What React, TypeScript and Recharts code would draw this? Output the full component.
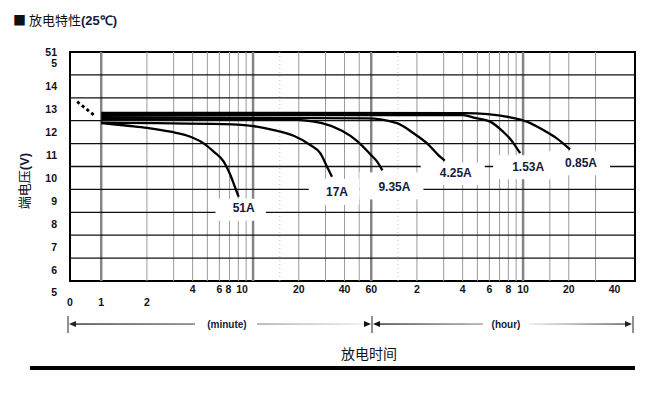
import { LineChart, Line, XAxis, YAxis, ReferenceLine, ReferenceArea, LabelList } from 'recharts';

// discharge time in minutes (log scale), terminal voltage in V
const minutes51 = [1, 1.5, 2, 2.86, 3.87, 4.73, 5.5, 6.41, 7.09, 7.65, 8.04];
const volts51 = [12.4, 12.28, 12.19, 12.02, 11.8, 11.51, 11.15, 10.71, 10.13, 9.55, 9.18];

const minutes17 = [1, 6.4, 10.6, 13.7, 18.5, 23.8, 27.7, 30.7, 33.1];
const volts17 = [12.42, 12.35, 12.24, 12.09, 11.84, 11.44, 11.08, 10.49, 10.05];

const minutes935 = [1, 17.6, 28.4, 38.5, 48.3, 59.1, 65.8, 71.1];
const volts935 = [12.57, 12.55, 12.39, 12.06, 11.62, 11.04, 10.7, 10.33];

const minutes425 = [1, 56, 88.6, 114, 140, 166, 183];
const volts425 = [12.66, 12.6, 12.39, 11.95, 11.51, 11.0, 10.76];

const minutes153 = [1, 242, 290, 364, 443, 500, 540, 574];
const volts153 = [12.75, 12.74, 12.62, 12.46, 12.02, 11.66, 11.35, 11.08];

const minutes085 = [1, 249, 493, 635, 816, 1000, 1223];
const volts085 = [12.84, 12.83, 12.65, 12.46, 12.09, 11.73, 11.25];

const minutesStart = [0.695, 0.894];
const voltsStart = [13.33, 12.75];

const xTicks = [0.623, 1, 2, 4, 6, 8, 10, 20, 40, 60, 120, 240, 360, 480, 600, 1200, 2400];
const xTickText = ['0', '1', '2', '4', '6', '8', '10', '20', '40', '60', '2', '4', '6', '8', '10', '20', '40'];

const yTicks = [5, 6, 7, 8, 9, 10, 11, 12, 13, 14, 15, 15.5];
const yTickText = ['5', '6', '7', '8', '9', '10', '11', '12', '13', '14', '5', '51'];

const majorMinutes = [1, 10, 60, 600];
const minorMinutes = [2, 3, 4, 5, 6, 7, 8, 9, 20, 30, 40, 50, 120, 180, 240, 300, 360, 420, 480, 540, 900, 1200, 1800];
const dottedMinutes = [15, 90];
const gridVolts = [6.5, 7.5, 8.5, 9.5, 10.5, 11.5, 12.5, 13.5, 14.5];

const xDomain = [0.623, 3275];
const yDomain = [5.5, 15.5];

const FONT = '"Liberation Sans", Arial, sans-serif';
const CJK = '"Noto Sans CJK SC", "Noto Sans CJK JP", sans-serif';
const INK = '#141a3c';

const rows = (t: number[], v: number[]) => t.map((x, i) => ({ t: x, v: v[i] }));

const curves = [
  { name: '51A', data: rows(minutes51, volts51), off: [5, 11] },
  { name: '17A', data: rows(minutes17, volts17), off: [5, 15] },
  { name: '9.35A', data: rows(minutes935, volts935), off: [12, 16] },
  { name: '4.25A', data: rows(minutes425, volts425), off: [11, 11.5] },
  { name: '1.53A', data: rows(minutes153, volts153), off: [8, 13] },
  { name: '0.85A', data: rows(minutes085, volts085), off: [11, 13] },
];

const endLabel = (name: string, count: number, off: number[]) => (props: any) => {
  const x = props.x ?? props.viewBox?.x;
  const y = props.y ?? props.viewBox?.y;
  if (props.index !== count - 1 || x == null) return null;
  const cx = x + off[0];
  const cy = y + off[1];
  const w = name.length * 6.8;
  return (
    <g>
      <rect x={cx - w / 2 - 18} y={y + 2} width={w + 30} height={cy + 13 - (y + 2)} fill="#fff" />
      <text x={cx} y={cy + 4.5} textAnchor="middle" fontFamily={FONT} fontWeight="bold" fontSize={12} fill={INK}>
        {name}
      </text>
    </g>
  );
};

const XTick = (props: any) => {
  const { x, index } = props;
  const nudge = index === 5 ? -10 : index === 6 ? -11 : 0;
  const y = index < 3 ? 305.5 : 293;
  return (
    <text x={x + nudge} y={y} textAnchor="middle" fontFamily={FONT} fontWeight="bold" fontSize={10.5} fill="#111">
      {xTickText[index]}
    </text>
  );
};

const YTick = (props: any) => {
  const { y, index } = props;
  return (
    <text x={57} y={y + 4} textAnchor="end" fontFamily={FONT} fontWeight="bold" fontSize={10.5} fill="#111">
      {yTickText[index]}
    </text>
  );
};

function Decorations() {
  const ay = 324;
  return (
    <svg width={671} height={399} style={{ position: 'absolute', left: 0, top: 0, pointerEvents: 'none' }}>
      <defs>
        <linearGradient id="g1" x1="0" x2="1" y1="0" y2="0">
          <stop offset="0" stopColor="#222" />
          <stop offset="1" stopColor="#666" />
        </linearGradient>
        <linearGradient id="g2" x1="0" x2="1" y1="0" y2="0">
          <stop offset="0" stopColor="#999" />
          <stop offset="1" stopColor="#e8e8e8" />
        </linearGradient>
        <linearGradient id="g3" x1="0" x2="1" y1="0" y2="0">
          <stop offset="0" stopColor="#222" />
          <stop offset="1" stopColor="#999" />
        </linearGradient>
        <linearGradient id="g4" x1="0" x2="1" y1="0" y2="0">
          <stop offset="0" stopColor="#e8e8e8" />
          <stop offset="1" stopColor="#444" />
        </linearGradient>
      </defs>
      <text x={13} y={25} fontFamily={CJK} fontSize={13} fill="#111">
        ■ 放电特性
        <tspan fontFamily={FONT} fontWeight="bold" fill={INK}>(25℃)</tspan>
      </text>
      <text transform="translate(29,181) rotate(-90)" textAnchor="middle" fontFamily={CJK} fontSize={13} fill="#111">
        端电压
        <tspan fontFamily={FONT} fontWeight="bold" fill={INK}>(V)</tspan>
      </text>

      <line x1={68} x2={68} y1={316} y2={333} stroke="#222" />
      <polygon points={`69,${ay} 76,${ay - 3} 76,${ay + 3}`} fill="#222" />
      <rect x={76} y={ay - 0.6} width={119} height={1.3} fill="url(#g1)" />
      <text x={227} y={ay + 3.5} textAnchor="middle" fontFamily={FONT} fontWeight="bold" fontSize={10} fill={INK}>
        (minute)
      </text>
      <rect x={257} y={ay - 0.6} width={108} height={1.3} fill="url(#g2)" />
      <polygon points={`371,${ay} 364,${ay - 3} 364,${ay + 3}`} fill="#111" />
      <line x1={372} x2={372} y1={316} y2={333} stroke="#222" />
      <polygon points={`373,${ay} 380,${ay - 3} 380,${ay + 3}`} fill="#111" />
      <rect x={380} y={ay - 0.6} width={103} height={1.3} fill="url(#g3)" />
      <text x={506} y={ay + 3.5} textAnchor="middle" fontFamily={FONT} fontWeight="bold" fontSize={10} fill={INK}>
        (hour)
      </text>
      <rect x={529} y={ay - 0.6} width={97} height={1.3} fill="url(#g4)" />
      <polygon points={`632,${ay} 625,${ay - 3} 625,${ay + 3}`} fill="#222" />
      <line x1={633} x2={633} y1={316} y2={333} stroke="#222" />

      <text x={369} y={359} textAnchor="middle" fontFamily={CJK} fontSize={14} fill="#111">
        放电时间
      </text>
      <rect x={30} y={366} width={605} height={4} fill="#000" />
    </svg>
  );
}

export default function App() {
  return (
    <div style={{ position: 'absolute', left: 0, top: 0, width: 671, height: 399, background: '#fff' }}>
      <LineChart width={671} height={399} margin={{ top: 52, right: 36, left: 40, bottom: 88 }}>
        <XAxis
          type="number"
          dataKey="t"
          scale="log"
          domain={xDomain}
          allowDataOverflow
          ticks={xTicks}
          interval={0}
          height={30}
          axisLine={false}
          tickLine={false}
          tick={<XTick />}
        />
        <YAxis
          type="number"
          domain={yDomain}
          allowDataOverflow
          ticks={yTicks}
          interval={0}
          width={30}
          axisLine={false}
          tickLine={false}
          tick={<YTick />}
        />
        {dottedMinutes.map((m) => (
          <ReferenceLine key={'d' + m} x={m} stroke="#bdbdbd" strokeWidth={1} strokeDasharray="1 3" />
        ))}
        {minorMinutes.map((m) => (
          <ReferenceLine key={'n' + m} x={m} stroke="#9a9a9a" strokeWidth={1} />
        ))}
        {majorMinutes.map((m) => (
          <ReferenceLine key={'m' + m} x={m} stroke="#858585" strokeWidth={2.5} />
        ))}
        {gridVolts.map((v) => (
          <ReferenceLine key={'h' + v} y={v} stroke="#111" strokeWidth={1.3} />
        ))}
        <ReferenceArea
          x1={xDomain[0]}
          x2={xDomain[1]}
          y1={yDomain[0]}
          y2={yDomain[1]}
          fill="none"
          fillOpacity={0}
          stroke="#000"
          strokeWidth={2}
        />
        <Line
          data={rows(minutesStart, voltsStart)}
          dataKey="v"
          type="linear"
          stroke="#000"
          strokeWidth={3}
          strokeDasharray="3 3"
          dot={false}
          isAnimationActive={false}
        />
        {curves.map((c) => (
          <Line
            key={c.name}
            data={c.data}
            dataKey="v"
            name={c.name}
            type="monotone"
            stroke="#000"
            strokeWidth={2.3}
            dot={false}
            isAnimationActive={false}
          >
            <LabelList dataKey="v" content={endLabel(c.name, c.data.length, c.off)} />
          </Line>
        ))}
      </LineChart>
      <Decorations />
    </div>
  );
}
